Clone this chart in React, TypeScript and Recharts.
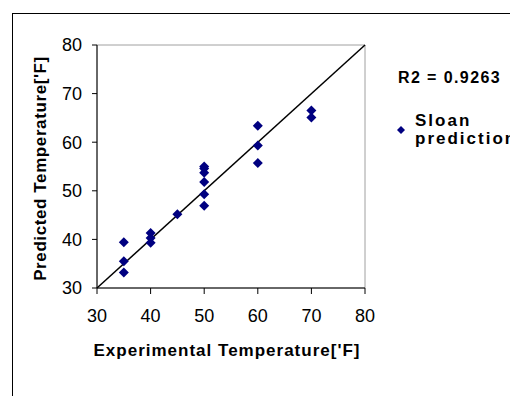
import React from 'react';
import {
  ScatterChart,
  Scatter,
  XAxis,
  YAxis,
  ReferenceLine,
  ReferenceArea
} from 'recharts';

// experimental vs predicted hydrate temperatures ['F]
const experimental = [35, 35, 35, 40, 40, 40, 45, 50, 50, 50, 50, 50, 50, 60, 60, 60, 70, 70];
const predicted = [39.4, 35.5, 33.2, 41.3, 40.3, 39.3, 45.2, 55, 54.6, 53.7, 51.8, 49.3, 46.9, 63.4, 59.3, 55.7, 66.5, 65.1];
const axisTicks = [30, 40, 50, 60, 70, 80];
const legendLines = ['Sloan', 'prediction'];
const r2Label = 'R2 = 0.9263';

const points = experimental.map((x, i) => ({ x, y: predicted[i] }));

const NAVY = '#000080';

const Diamond = (props: any) => {
  const { cx, cy } = props;
  const r = 5;
  return (
    <polygon
      points={`${cx},${cy - r} ${cx + r},${cy} ${cx},${cy + r} ${cx - r},${cy}`}
      fill={NAVY}
    />
  );
};

const XTitle = (props: any) => {
  const { viewBox } = props;
  return (
    <text
      x={viewBox.x + viewBox.width / 2 - 4}
      y={342}
      textAnchor="middle"
      dominantBaseline="central"
      fontSize={17}
      fontWeight="bold"
      letterSpacing={1}
      fill="#000"
    >
      Experimental Temperature['F]
    </text>
  );
};

const YTitle = (props: any) => {
  const { viewBox } = props;
  const x = viewBox.x + 3;
  const y = viewBox.y + viewBox.height / 2 + 2;
  return (
    <text
      x={x}
      y={y}
      transform={`rotate(-90, ${x}, ${y})`}
      textAnchor="middle"
      dominantBaseline="central"
      fontSize={17}
      fontWeight="bold"
      letterSpacing={0.6}
      fill="#000"
    >
      Predicted Temperature['F]
    </text>
  );
};

export default function App() {
  return (
    <div
      style={{
        position: 'relative',
        width: 510,
        height: 388,
        overflow: 'hidden',
        fontFamily: '"Liberation Sans", Arial, sans-serif',
        background: '#fff'
      }}
    >
      <div
        style={{
          position: 'absolute',
          left: 4,
          top: 5,
          width: 540,
          height: 420,
          border: '1.5px solid #000'
        }}
      />
      <ScatterChart
        width={510}
        height={388}
        margin={{ top: 37, right: 153, bottom: 68, left: 29 }}
        style={{ position: 'absolute', left: 0, top: 0 }}
      >
        <ReferenceArea x1={30} x2={80} y1={30} y2={80} fill="none" stroke="#a0a0a0" />
        <XAxis
          type="number"
          dataKey="x"
          domain={[30, 80]}
          ticks={axisTicks}
          allowDataOverflow
          height={40}
          tickSize={6}
          tickMargin={15}
          stroke="#000"
          tick={{ fill: '#000', fontSize: 18 }}
          label={<XTitle />}
        />
        <YAxis
          type="number"
          dataKey="y"
          domain={[30, 80]}
          ticks={axisTicks}
          allowDataOverflow
          width={60}
          tickSize={5}
          tickMargin={10}
          stroke="#000"
          tick={{ fill: '#000', fontSize: 18 }}
          label={<YTitle />}
        />
        <ReferenceLine
          segment={[{ x: 30, y: 30 }, { x: 80, y: 80 }]}
          stroke="#000"
          strokeWidth={1.5}
        />
        <Scatter
          name="Sloan prediction"
          data={points}
          fill={NAVY}
          shape={<Diamond />}
          isAnimationActive={false}
        />
      </ScatterChart>
      <div
        style={{
          position: 'absolute',
          left: 390,
          top: 61,
          fontSize: 16,
          fontWeight: 'bold',
          letterSpacing: 1.4,
          lineHeight: '18px',
          whiteSpace: 'nowrap'
        }}
      >
        {r2Label}
      </div>
      <div
        style={{
          position: 'absolute',
          left: 387,
          top: 104,
          fontSize: 17,
          fontWeight: 'bold',
          letterSpacing: 2,
          lineHeight: '18px',
          whiteSpace: 'nowrap'
        }}
      >
        <svg width={10} height={10} style={{ position: 'absolute', left: 1, top: 13 }}>
          <polygon points="5,1 9,5 5,9 1,5" fill={NAVY} />
        </svg>
        <div style={{ marginLeft: 20 }}>
          {legendLines.map((t) => (
            <div key={t}>{t}</div>
          ))}
        </div>
      </div>
    </div>
  );
}
